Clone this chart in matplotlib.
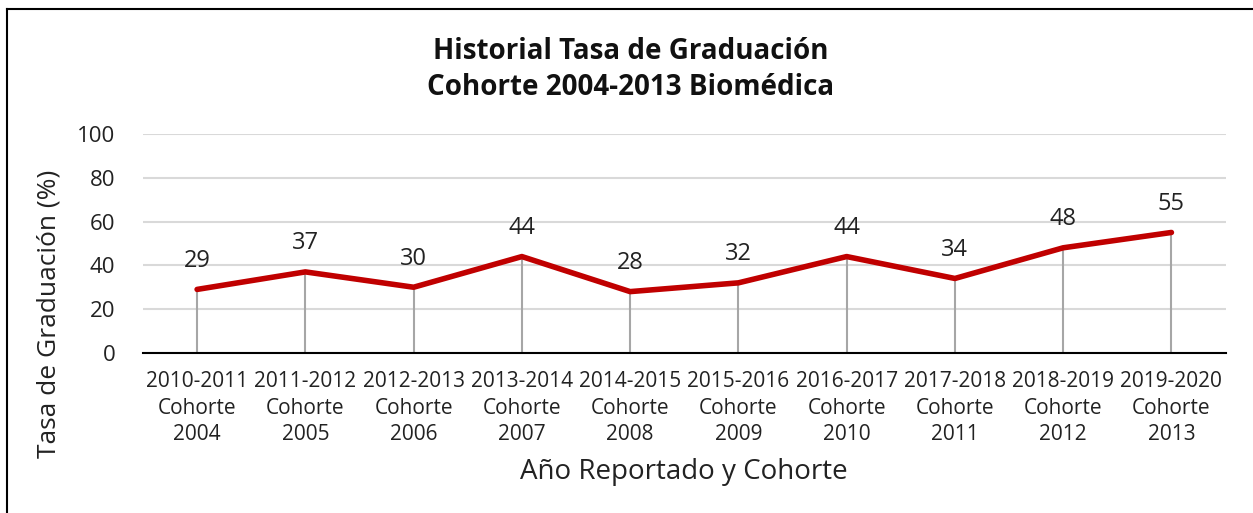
import matplotlib.pyplot as plt
from matplotlib.lines import Line2D

plt.rcParams['font.family'] = ['Open Sans', 'DejaVu Sans']

years = ['2010-2011', '2011-2012', '2012-2013', '2013-2014', '2014-2015',
         '2015-2016', '2016-2017', '2017-2018', '2018-2019', '2019-2020']
cohorts = ['2004', '2005', '2006', '2007', '2008', '2009', '2010', '2011', '2012', '2013']
rates = [29, 37, 30, 44, 28, 32, 44, 34, 48, 55]

labels = [f'{y}\nCohorte\n{c}' for y, c in zip(years, cohorts)]
x = list(range(len(rates)))

fig = plt.figure(figsize=(12.53, 5.13), dpi=100)
ax = fig.add_axes([0.1141, 0.312, 0.864, 0.427])

# frame lines on the left and top of the figure
fig.add_artist(Line2D([0.0056, 0.0056], [0, 0.983], color='black', lw=1.5,
                      transform=fig.transFigure))
fig.add_artist(Line2D([0.0056, 1.0], [0.983, 0.983], color='black', lw=1.5,
                      transform=fig.transFigure))

ax.set_ylim(0, 100)
ax.set_xlim(-0.5, len(rates) - 0.5)
ax.set_yticks(range(0, 101, 20))
ax.yaxis.grid(True, color='#D9D9D9', lw=1.5)
ax.set_axisbelow(True)

ax.vlines(x, 0, rates, color='#A6A6A6', lw=1.5, zorder=2)
ax.plot(x, rates, color='#C00000', lw=4, solid_capstyle='round', zorder=3)

for xi, v in zip(x, rates):
    ax.annotate(str(v), (xi, v), xytext=(0, 12), textcoords='offset points',
                ha='center', va='bottom', fontsize=17, color='#222222')

for s in ['top', 'right', 'left']:
    ax.spines[s].set_visible(False)
ax.spines['bottom'].set_color('black')
ax.spines['bottom'].set_linewidth(1.5)

ax.set_xticks(x)
ax.set_xticklabels(labels, fontsize=15, linespacing=1.35)
ax.tick_params(axis='both', length=0, colors='#222222')
ax.tick_params(axis='x', pad=13, labelsize=15)
ax.tick_params(axis='y', pad=20, labelsize=16)

ax.set_ylabel('Tasa de Graduación (%)', fontsize=19, color='#222222')
ax.yaxis.set_label_coords(-0.075, 0.18)
ax.set_xlabel('Año Reportado y Cohorte', fontsize=20, color='#222222', labelpad=9)

fig.text(0.503, 0.865, 'Historial Tasa de Graduación\nCohorte 2004-2013 Biomédica',
         ha='center', va='center', fontsize=20, fontweight='bold',
         linespacing=1.3, color='#111111')

fig.savefig('out.png', dpi=100)
